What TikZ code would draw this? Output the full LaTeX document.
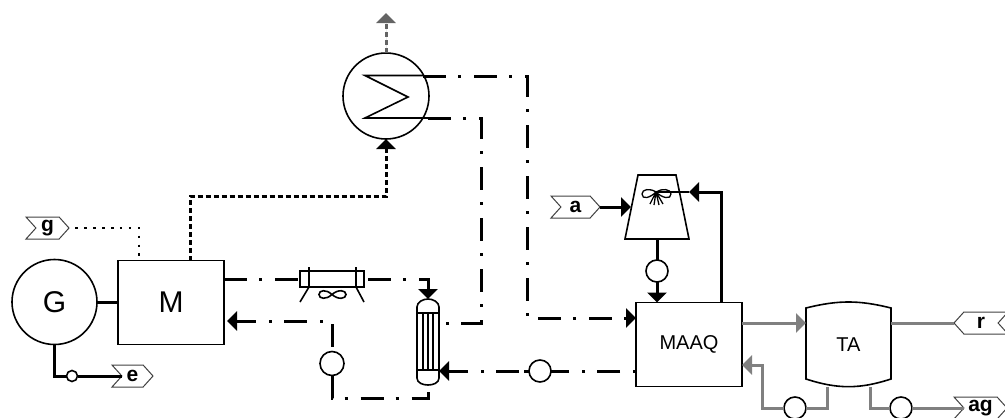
\documentclass[tikz,border=0pt]{standalone}
\usepackage{fontspec}
\setmainfont{Liberation Sans}
\usetikzlibrary{shapes.geometric, shapes.symbols, arrows.meta, positioning, calc}
\definecolor{flowgray}{RGB}{128,128,128}
\definecolor{fumegray}{RGB}{100,100,100}
\tikzset{
  unitbox/.style={draw, line width=1.6pt, fill=white, minimum width=106pt, minimum height=84pt, inner sep=0pt, outer sep=0pt},
  roundunit/.style={draw, circle, line width=1.6pt, inner sep=0pt, outer sep=0pt},
  pumpnode/.style={draw, circle, line width=1.6pt, fill=white, minimum size=22pt, inner sep=0pt, outer sep=0pt},
  bare/.style={inner sep=0pt, outer sep=0pt},
  tagbase/.style={draw=black!75, line width=1pt, signal, signal pointer angle=96, minimum height=22pt, inner sep=0pt, outer sep=0pt, font=\fontsize{21}{21}\selectfont\bfseries},
  tagout/.style={tagbase, signal to=east, signal from=west},
  tagin/.style={tagbase, signal to=west, signal from=east},
  outline/.style={line width=1.6pt},
  solidflow/.style={line width=3pt},
  grayflow/.style={line width=3pt, draw=flowgray},
  waterline/.style={line width=3pt, dash pattern=on 23pt off 12pt on 3pt off 13pt},
  fumeline/.style={line width=3pt, dash pattern=on 5pt off 3pt},
  gasline/.style={line width=2.6pt, dash pattern=on 2.5pt off 6.4pt, dash phase=2.5pt},
  flowtip/.style={-{Triangle[length=10pt,width=19pt]}},
}

\begin{document}
\begin{tikzpicture}[x=1pt,y=-1pt]
  \useasboundingbox (0,0) rectangle (1005,418);

  % units
  \node[roundunit, minimum size=85pt, font=\fontsize{30}{30}\selectfont] (gen) at (54.5,302) {G};
  \node[unitbox, font=\fontsize{30}{30}\selectfont] (mot) at (171,302.5) {M};
  \node[roundunit, minimum size=86pt] (hx) at (386,96) {};
  \node[unitbox, font=\fontsize{20}{20}\selectfont] (maaq) at (689,344.5) {MAAQ};
  \node[bare, minimum width=85pt, minimum height=85pt, font=\fontsize{20}{20}\selectfont] (tank) at (848.5,344.5) {TA};
  \node[bare, minimum width=64pt, minimum height=16pt] (fan) at (332,279) {};
  \node[bare, minimum width=22pt, minimum height=86pt] (shell) at (428,342) {};
  \node[bare, minimum width=64pt, minimum height=64pt] (tower) at (657,207) {};

  % pumps
  \node[pumpnode, minimum size=11pt] (meter) at (72,376) {};
  \node[pumpnode, minimum size=24pt] (pumpa) at (332,363.5) {};
  \node[pumpnode] (pumpb) at (540,371) {};
  \node[pumpnode] (pumpc) at (657,271) {};
  \node[pumpnode] (pumpd) at (795,408) {};
  \node[pumpnode] (pumpe) at (901,408) {};

  % streams
  \node[tagout, minimum width=43pt] (tagg) at (47.5,228) {g};
  \node[tagout, minimum width=41pt] (tage) at (132.5,376) {e};
  \node[tagout, minimum width=49pt] (taga) at (575.5,207) {a};
  \node[tagin, minimum width=54pt] (tagr) at (981,323) {r};
  \node[tagout, minimum width=53pt] (tagag) at (980.5,408) {ag};

  % equipment details
  \draw[outline] (423,75.5) -- (365,75.5) -- (408,97) -- (365,118) -- (428,118);
  \draw[outline] (fan.south west) rectangle (fan.north east);
  \draw[outline] (309,267) -- (309,287) -- (300,302);
  \draw[outline] (356,267) -- (356,287) -- (364,302);
  \draw[outline] (332,294.5) .. controls (326,289) and (319,290) .. (319,294.5) .. controls (319,299) and (326,300) .. (332,294.5)
    .. controls (338,289) and (346,290) .. (346,294.5) .. controls (346,299) and (338,300) .. (332,294.5);
  \draw[outline] (417,370) -- (417,307) .. controls (417,302) and (423,299) .. (428,299) .. controls (433,299) and (439,302) .. (439,307)
    -- (439,378) .. controls (439,383) and (433,385) .. (428,385) .. controls (423,385) and (417,383) .. (417,378) -- cycle;
  \draw[outline] (417,313) -- (439,313) (417,370) -- (439,370);
  \foreach \tubex in {423,428,433} {
    \draw[line width=1.3pt] (\tubex,313) -- (\tubex,370);
  }
  \draw[outline] (806,308) to[bend left=14] (891,308) -- (891,379) to[bend left=18] (806,379) -- cycle;
  \draw[outline] (638,175) -- (676,175) -- (689,239) -- (625,239) -- cycle;
  \draw[line width=1.3pt] (656,192) .. controls (650,188) and (642,189) .. (642,194) .. controls (642,200) and (650,198) .. (656,192)
    .. controls (662,198) and (671,200) .. (671,194) .. controls (671,189) and (662,188) .. (656,192);
  \draw[line width=1.3pt] (656,192) -- (650,204) (656,192) -- (654,205) (656,192) -- (659,205) (656,192) -- (663,204);

  % named points
  \coordinate (coila) at (423,76);
  \coordinate (coilb) at (428,118);
  \coordinate (benda) at (527,318);
  \coordinate (bendb) at (481,323);
  \coordinate (bendc) at (428,398);
  \coordinate (bendd) at (762,365);
  \coordinate (bende) at (721,192);
  \coordinate (towerin) at (689,192);
  \coordinate (spray) at (656,192);
  \coordinate (fumebend) at (386,196);
  \coordinate (stack) at (386,13);

  % power and fuel
  \draw[solidflow] (gen.east) -- (gen.east -| mot.west);
  \draw[solidflow] (gen.south) |- (meter.west);
  \draw[solidflow] (meter.east) -- (tage.west);
  \draw[gasline] (tagg.east) -| ([xshift=-32pt]mot.north);

  % exhaust
  \draw[fumeline, flowtip] ([xshift=19pt]mot.north) |- (fumebend) -- (hx.south);
  \draw[fumeline, draw=fumegray, fill=fumegray, flowtip] (hx.north) -- (stack);

  % hot water circuit
  \draw[waterline] (mot.east |- fan.west) -- (fan.west);
  \draw[waterline, flowtip] ([xshift=4pt]fan.east) -| (shell.north);
  \draw[waterline, flowtip] (coila) -| (benda) -- (benda -| maaq.west);
  \draw[waterline] (coilb) -| (bendb) -- (bendb -| shell.east);
  \draw[waterline, flowtip] ([yshift=5pt]pumpa.north) |- ([xshift=3pt]mot.east |- 0,321);
  \draw[waterline] (pumpa.south) |- (bendc) -- (shell.south);
  \draw[waterline, dash phase=35pt] (maaq.west |- pumpb.east) -- (pumpb.east);
  \draw[line width=3pt, dash pattern=on 5pt off 5pt on 23pt off 12pt on 3pt off 13pt on 40pt, flowtip] (pumpb.west) -- (pumpb.west -| shell.east);

  % air
  \draw[solidflow, flowtip] (taga.east) -- ([xshift=6pt]tower.west);
  \draw[solidflow] (tower.south) -- (pumpc.north);
  \draw[solidflow, flowtip] (pumpc.south) -- (maaq.north -| pumpc.south);
  \draw[solidflow, flowtip] (maaq.north -| bende) -- (bende) -- (towerin);
  \draw[line width=1.3pt] (towerin) -- (spray);

  % grey circuit
  \draw[grayflow, flowtip] ([yshift=21.5pt]maaq.east) -- ([yshift=21.5pt]tank.west);
  \draw[grayflow] ([yshift=21.5pt]tank.east) -- (tagr.west);
  \draw[grayflow] ([xshift=-21.5pt]tank.south) |- (pumpd.east);
  \draw[grayflow, flowtip] (pumpd.west) -| (bendd) -- (bendd -| maaq.east);
  \draw[grayflow] ([xshift=21.5pt]tank.south) |- (pumpe.west);
  \draw[grayflow] (pumpe.east) -- (tagag.west);
\end{tikzpicture}
\end{document}
